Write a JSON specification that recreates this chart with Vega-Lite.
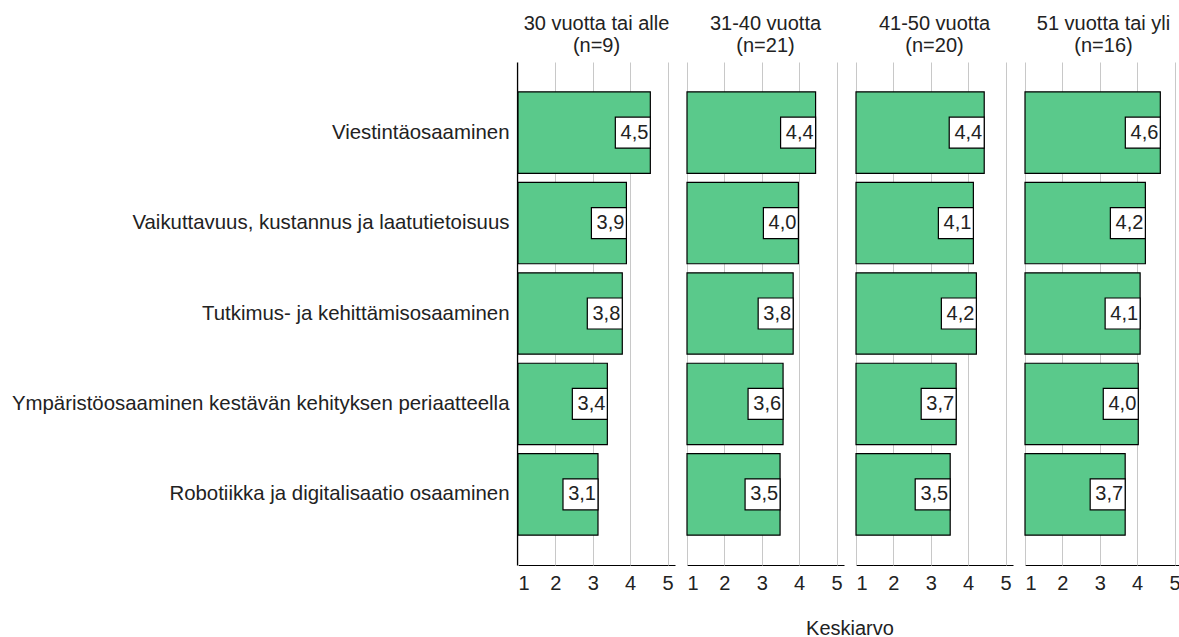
{
  "$schema": "https://vega.github.io/schema/vega-lite/v6.json",
  "padding": {"left": 11, "top": 14, "right": 0, "bottom": 0},
  "autosize": {"type": "pad"},
  "background": "white",
  "data": {"values": [
    {"group": "30 vuotta tai alle|(n=9)", "item": "Viestintäosaaminen", "value": 4.54, "label": "4,5"},
    {"group": "30 vuotta tai alle|(n=9)", "item": "Vaikuttavuus, kustannus ja laatutietoisuus", "value": 3.90, "label": "3,9"},
    {"group": "30 vuotta tai alle|(n=9)", "item": "Tutkimus- ja kehittämisosaaminen", "value": 3.79, "label": "3,8"},
    {"group": "30 vuotta tai alle|(n=9)", "item": "Ympäristöosaaminen kestävän kehityksen periaatteella", "value": 3.39, "label": "3,4"},
    {"group": "30 vuotta tai alle|(n=9)", "item": "Robotiikka ja digitalisaatio osaaminen", "value": 3.14, "label": "3,1"},
    {"group": "31-40 vuotta|(n=21)", "item": "Viestintäosaaminen", "value": 4.44, "label": "4,4"},
    {"group": "31-40 vuotta|(n=21)", "item": "Vaikuttavuus, kustannus ja laatutietoisuus", "value": 3.98, "label": "4,0"},
    {"group": "31-40 vuotta|(n=21)", "item": "Tutkimus- ja kehittämisosaaminen", "value": 3.84, "label": "3,8"},
    {"group": "31-40 vuotta|(n=21)", "item": "Ympäristöosaaminen kestävän kehityksen periaatteella", "value": 3.57, "label": "3,6"},
    {"group": "31-40 vuotta|(n=21)", "item": "Robotiikka ja digitalisaatio osaaminen", "value": 3.49, "label": "3,5"},
    {"group": "41-50 vuotta|(n=20)", "item": "Viestintäosaaminen", "value": 4.43, "label": "4,4"},
    {"group": "41-50 vuotta|(n=20)", "item": "Vaikuttavuus, kustannus ja laatutietoisuus", "value": 4.14, "label": "4,1"},
    {"group": "41-50 vuotta|(n=20)", "item": "Tutkimus- ja kehittämisosaaminen", "value": 4.22, "label": "4,2"},
    {"group": "41-50 vuotta|(n=20)", "item": "Ympäristöosaaminen kestävän kehityksen periaatteella", "value": 3.68, "label": "3,7"},
    {"group": "41-50 vuotta|(n=20)", "item": "Robotiikka ja digitalisaatio osaaminen", "value": 3.52, "label": "3,5"},
    {"group": "51 vuotta tai yli|(n=16)", "item": "Viestintäosaaminen", "value": 4.62, "label": "4,6"},
    {"group": "51 vuotta tai yli|(n=16)", "item": "Vaikuttavuus, kustannus ja laatutietoisuus", "value": 4.22, "label": "4,2"},
    {"group": "51 vuotta tai yli|(n=16)", "item": "Tutkimus- ja kehittämisosaaminen", "value": 4.08, "label": "4,1"},
    {"group": "51 vuotta tai yli|(n=16)", "item": "Ympäristöosaaminen kestävän kehityksen periaatteella", "value": 4.03, "label": "4,0"},
    {"group": "51 vuotta tai yli|(n=16)", "item": "Robotiikka ja digitalisaatio osaaminen", "value": 3.68, "label": "3,7"}
  ]},
  "facet": {
    "column": {
      "field": "group",
      "type": "nominal",
      "sort": ["30 vuotta tai alle|(n=9)", "31-40 vuotta|(n=21)", "41-50 vuotta|(n=20)", "51 vuotta tai yli|(n=16)"],
      "title": "Keskiarvo",
      "header": {
        "labelOrient": "top",
        "titleOrient": "bottom",
        "labelExpr": "split(datum.value, '|')",
        "labelFont": "Liberation Sans",
        "labelFontSize": 20,
        "labelColor": "#222222",
        "labelLineHeight": 22,
        "labelPadding": 6,
        "titleFont": "Liberation Sans",
        "titleFontSize": 20,
        "titleFontWeight": "normal",
        "titleColor": "#222222",
        "titlePadding": 16
      }
    }
  },
  "spacing": 11,
  "spec": {
    "width": 157,
    "height": 503,
    "encoding": {
      "y": {
        "field": "item",
        "type": "nominal",
        "sort": ["Viestintäosaaminen", "Vaikuttavuus, kustannus ja laatutietoisuus", "Tutkimus- ja kehittämisosaaminen", "Ympäristöosaaminen kestävän kehityksen periaatteella", "Robotiikka ja digitalisaatio osaaminen"],
        "scale": {"paddingInner": 0.1, "paddingOuter": 0.33},
        "axis": {
          "title": null,
          "ticks": false,
          "domainColor": "#000000",
          "domainWidth": 1.2,
          "labelFont": "Liberation Sans",
          "labelFontSize": 20.4,
          "labelColor": "#222222",
          "labelPadding": 8,
          "labelLimit": 0,
          "grid": false
        }
      },
      "x": {
        "field": "value",
        "type": "quantitative",
        "scale": {"domain": [1, 5.2], "nice": false, "zero": false},
        "axis": {
          "title": null,
          "values": [1, 2, 3, 4, 5],
          "ticks": false,
          "grid": true,
          "gridColor": "#c8c8c8",
          "gridWidth": 1,
          "domainColor": "#000000",
          "domainWidth": 1.2,
          "labelFont": "Liberation Sans",
          "labelFontSize": 20,
          "labelColor": "#222222",
          "labelPadding": 8
        }
      }
    },
    "layer": [
      {
        "mark": {"type": "bar", "fill": "#5ac98b", "stroke": "#000000", "strokeWidth": 1.2},
        "encoding": {"x2": {"datum": 1}}
      },
      {
        "mark": {"type": "rect", "width": 35, "height": 31, "xOffset": -17.5, "fill": "#ffffff", "stroke": "#000000", "strokeWidth": 1.2}
      },
      {
        "mark": {"type": "text", "align": "right", "baseline": "middle", "dx": -2, "font": "Liberation Sans", "fontSize": 20, "fill": "#222222"},
        "encoding": {"text": {"field": "label"}}
      }
    ]
  },
  "config": {
    "view": {"stroke": null},
    "font": "Liberation Sans"
  }
}
